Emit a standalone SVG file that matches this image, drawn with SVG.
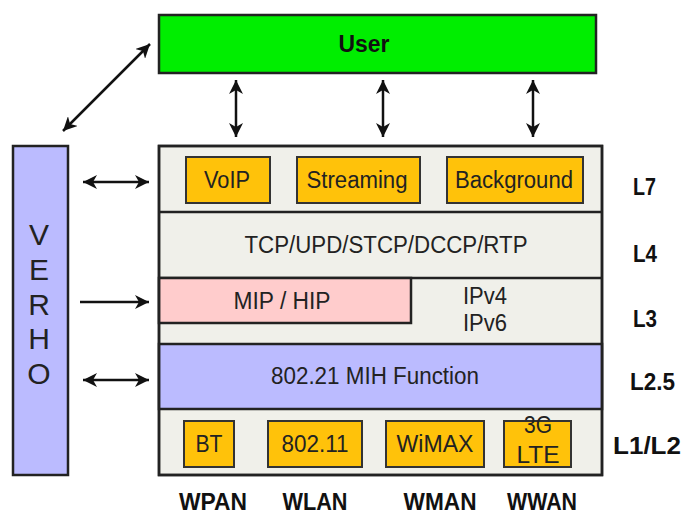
<svg xmlns="http://www.w3.org/2000/svg" width="685" height="516" viewBox="0 0 685 516">
<defs>
<marker id="ah" markerUnits="userSpaceOnUse" markerWidth="16" markerHeight="14" refX="14" refY="7" orient="auto-start-reverse">
<path d="M0,0 L14,7 L0,14 L4,7 Z" fill="#111"/>
</marker>
<style>
.t{font-family:"Liberation Sans",Arial,sans-serif;fill:#222;font-size:23px;text-anchor:middle}
.v{font-family:"Liberation Sans",Arial,sans-serif;fill:#222;font-size:30px;text-anchor:middle}
.b{font-family:"Liberation Sans",Arial,sans-serif;fill:#111;font-size:23px;font-weight:bold;text-anchor:middle}
.l{font-family:"Liberation Sans",Arial,sans-serif;fill:#111;font-size:23px;font-weight:bold}
.bx{stroke:#222;stroke-width:2.5}
.or{fill:#ffc20a;stroke:#333;stroke-width:2}
.ln{stroke:#111;stroke-width:2.5;fill:none}
</style>
</defs>
<rect width="685" height="516" fill="#fff"/>
<g id="user">
<rect x="159" y="15" width="437" height="58" fill="#00ee00" class="bx"/>
<text x="364" y="52" class="b" textLength="51" lengthAdjust="spacingAndGlyphs">User</text>
</g>
<g id="verho">
<rect x="13" y="146" width="55" height="329" fill="#bbbbff" class="bx"/>
<text x="39" y="245" class="v">V</text>
<text x="39" y="280" class="v">E</text>
<text x="39" y="315" class="v">R</text>
<text x="39" y="349" class="v">H</text>
<text x="39" y="384" class="v">O</text>
</g>
<g id="stack">
<rect x="159" y="146" width="443" height="329" fill="#f0f0ea" class="bx"/>
</g>
<g id="l7">
<rect x="186" y="157" width="84" height="46" class="or"/>
<text x="227" y="188" class="t" textLength="46" lengthAdjust="spacingAndGlyphs">VoIP</text>
<rect x="297" y="157" width="123" height="46" class="or"/>
<text x="357" y="188" class="t" textLength="101" lengthAdjust="spacingAndGlyphs">Streaming</text>
<rect x="447" y="157" width="136" height="46" class="or"/>
<text x="514" y="188" class="t" textLength="118" lengthAdjust="spacingAndGlyphs">Background</text>
</g>
<g id="l4">
<line x1="159" y1="212" x2="602" y2="212" class="bx"/>
<text x="386" y="253" class="t" textLength="283" lengthAdjust="spacingAndGlyphs">TCP/UPD/STCP/DCCP/RTP</text>
</g>
<g id="l3">
<line x1="159" y1="278" x2="602" y2="278" class="bx"/>
<rect x="159" y="278" width="252" height="45" fill="#ffcccc" class="bx"/>
<text x="282" y="309" class="t" textLength="97" lengthAdjust="spacingAndGlyphs">MIP / HIP</text>
<text x="485" y="304" class="t" textLength="44" lengthAdjust="spacingAndGlyphs">IPv4</text>
<text x="485" y="331" class="t" textLength="44" lengthAdjust="spacingAndGlyphs">IPv6</text>
</g>
<g id="l25">
<rect x="159" y="344" width="443" height="65" fill="#bbbbff" class="bx"/>
<text x="375" y="384" class="t" textLength="208" lengthAdjust="spacingAndGlyphs">802.21 MIH Function</text>
</g>
<g id="l12">
<rect x="184" y="421" width="50" height="46" class="or"/>
<text x="209" y="452" class="t" textLength="27" lengthAdjust="spacingAndGlyphs">BT</text>
<rect x="268" y="421" width="94" height="46" class="or"/>
<text x="315" y="452" class="t" textLength="67" lengthAdjust="spacingAndGlyphs">802.11</text>
<rect x="386" y="421" width="98" height="46" class="or"/>
<text x="435" y="452" class="t" textLength="77" lengthAdjust="spacingAndGlyphs">WiMAX</text>
<rect x="504" y="421" width="67" height="46" class="or"/>
<text x="538" y="433" class="t" textLength="28" lengthAdjust="spacingAndGlyphs">3G</text>
<text x="538" y="463" class="t" textLength="43" lengthAdjust="spacingAndGlyphs">LTE</text>
</g>
<g id="stack-border">
<rect x="159" y="146" width="443" height="329" fill="none" class="bx"/>
</g>
<g id="layer-labels">
<text x="633" y="195" class="l" textLength="23" lengthAdjust="spacingAndGlyphs">L7</text>
<text x="633" y="262" class="l" textLength="24" lengthAdjust="spacingAndGlyphs">L4</text>
<text x="633" y="327" class="l" textLength="24" lengthAdjust="spacingAndGlyphs">L3</text>
<text x="630" y="390" class="l" textLength="45" lengthAdjust="spacingAndGlyphs">L2.5</text>
<text x="613" y="454" class="l" textLength="68" lengthAdjust="spacingAndGlyphs">L1/L2</text>
</g>
<g id="net-labels">
<text x="213" y="510" class="b" textLength="68" lengthAdjust="spacingAndGlyphs">WPAN</text>
<text x="315" y="510" class="b" textLength="65" lengthAdjust="spacingAndGlyphs">WLAN</text>
<text x="440" y="510" class="b" textLength="73" lengthAdjust="spacingAndGlyphs">WMAN</text>
<text x="542" y="510" class="b" textLength="70" lengthAdjust="spacingAndGlyphs">WWAN</text>
</g>
<g id="connectors">
<line x1="63" y1="131" x2="150" y2="44" class="ln" marker-start="url(#ah)" marker-end="url(#ah)"/>
<line x1="236" y1="80" x2="236" y2="137" class="ln" marker-start="url(#ah)" marker-end="url(#ah)"/>
<line x1="383" y1="80" x2="383" y2="137" class="ln" marker-start="url(#ah)" marker-end="url(#ah)"/>
<line x1="533" y1="80" x2="533" y2="137" class="ln" marker-start="url(#ah)" marker-end="url(#ah)"/>
<line x1="83" y1="182" x2="149" y2="182" class="ln" marker-start="url(#ah)" marker-end="url(#ah)"/>
<line x1="80" y1="302" x2="149" y2="302" class="ln" marker-end="url(#ah)"/>
<line x1="83" y1="380" x2="149" y2="380" class="ln" marker-start="url(#ah)" marker-end="url(#ah)"/>
</g>
</svg>
